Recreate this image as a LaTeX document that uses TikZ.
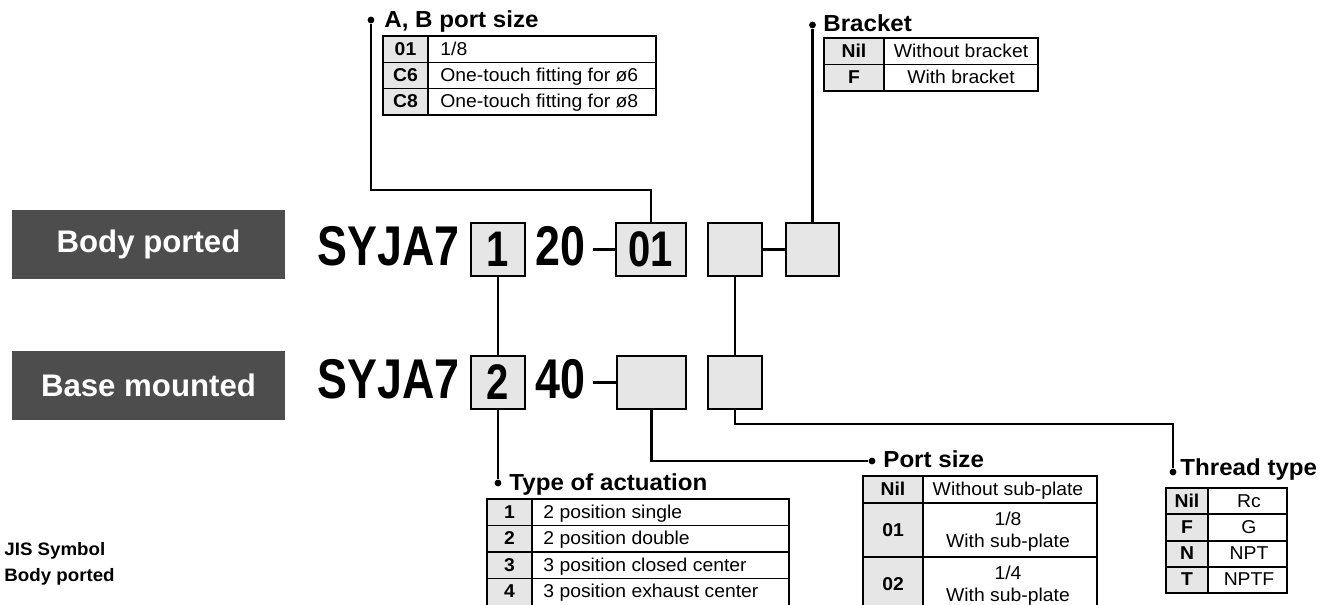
\documentclass[tikz,border=0pt]{standalone}
\usepackage{fontspec}
\setmainfont{Liberation Sans}
\newfontfamily\codefont[FakeStretch=0.8]{Liberation Sans}
\newfontfamily\tabfont[FakeStretch=1.04]{Liberation Sans}
\definecolor{boxgray}{HTML}{E6E6E6}
\definecolor{labelgray}{HTML}{4D4D4D}
\tikzset{
  codetext/.style={anchor=base west, inner sep=0pt, font=\codefont\bfseries\fontsize{28}{28}\selectfont},
  digitbox/.style={draw, line width=1.2pt, fill=boxgray, minimum height=26.5pt, inner sep=0pt,
    font=\codefont\bfseries\fontsize{25}{25}\selectfont},
  typelabel/.style={fill=labelgray, text=white, minimum width=136.5pt, minimum height=34.5pt,
    inner sep=0pt, font=\bfseries\fontsize{15.6}{16}\selectfont},
  headtext/.style={anchor=base west, inner sep=0pt, font=\tabfont\bfseries\fontsize{11.6}{13}\selectfont},
  twocell/.style={inner sep=0pt, align=center, font=\tabfont\fontsize{9.3}{10}\selectfont},
  cell/.style={twocell, text height=6.7pt, text depth=0.6pt},
  keycell/.style={cell, font=\tabfont\bfseries\fontsize{9.3}{10}\selectfont},
  conn/.style={line width=1.1pt},
  tabline/.style={line width=0.6pt},
  tabtop/.style={line width=1.2pt},
  joint/.style={fill, circle, inner sep=0pt, minimum size=3.4pt}
}
\begin{document}
\begin{tikzpicture}[x=0.5pt, y=-0.5pt]
\useasboundingbox (0,0) rectangle (1329,605);

\node[typelabel] (body) at (148.5,244.5) {Body ported};
\node[typelabel] (base) at (148.5,385) {Base mounted};

\node[codetext] (model1) at (317,265) {SYJA7};
\node[codetext] (ser1) at (535,265) {20};
\node[codetext] (model2) at (317,398) {SYJA7};
\node[codetext] (ser2) at (535,398) {40};

\node[digitbox, minimum width=27pt] (act1) at (498,249.5) {1};
\node[digitbox, minimum width=35pt] (abport) at (651,249.5) {01};
\node[digitbox, minimum width=27pt] (thr1) at (735,249.5) {};
\node[digitbox, minimum width=26.5pt] (brk) at (812.5,249.5) {};
\node[digitbox, minimum width=27pt] (act2) at (498,382.5) {2};
\node[digitbox, minimum width=34.5pt] (port) at (651.5,382.5) {};
\node[digitbox, minimum width=27pt] (thr2) at (735,382.5) {};

\coordinate (dash1) at (593,249.5);
\coordinate (dash2) at (593,382.5);
\draw[line width=1.5pt] (dash1) -- (abport.west);
\draw[line width=1.5pt] (dash2) -- (port.west);
\draw[line width=1.5pt] (thr1.east) -- (brk.west);

\draw[conn] (act1) -- (act2);
\draw[conn] (thr1) -- (thr2);

\node[joint] (abdot) at (371,20) {};
\node[joint] (brdot) at (812.5,25) {};
\node[joint] (tydot) at (498,483) {};
\node[joint] (psdot) at (872,461) {};
\node[joint] (thdot) at (1173,472) {};

\draw[conn] (abport.north) -- (abport.north |- 0,190) -- (abdot |- 0,190) -- (abdot);
\draw[conn] (brk.north) -- (brdot);
\draw[conn] (act2.south) -- (tydot);
\draw[conn] (port.south) |- (psdot);
\draw[conn] (thr2.south) -- (thr2.south |- 0,424) -| (thdot);

\node[headtext] (abtitle) at (384,27) {A, B port size};
\node[headtext] (brtitle) at (823,32) {Bracket};
\node[headtext] (tytitle) at (509,490) {Type of actuation};
\node[headtext] (pstitle) at (883,467) {Port size};
\node[headtext] (thtitle) at (1180,475) {Thread type};

% A, B port size
\fill[boxgray] (383,36) rectangle (428,115);
\draw[tabline] (383,36) rectangle (656,115);
\foreach \y in {62.3,88.7} \draw[tabline] (383,\y) -- (656,\y);
\draw[tabline] (428,36) -- (428,115);
\draw[tabtop] (383,36) -- (656,36);
\foreach \k/\t [count=\i] in {01/{1/8}, C6/{One-touch fitting for ø6}, C8/{One-touch fitting for ø8}} {
  \node[keycell] (ab-k\i) at (405.5,{36+26.33*(\i-0.5)}) {\k};
  \node[cell, anchor=west] (ab-t\i) at (440,{36+26.33*(\i-0.5)}) {\t};
}

% Bracket
\fill[boxgray] (824,38) rectangle (884,91);
\draw[tabline] (824,38) rectangle (1038,91);
\draw[tabline] (824,64.5) -- (1038,64.5);
\draw[tabline] (884,38) -- (884,91);
\draw[tabtop] (824,38) -- (1038,38);
\foreach \k/\t [count=\i] in {Nil/Without bracket, F/With bracket} {
  \node[keycell] (br-k\i) at (854,{38+26.5*(\i-0.5)}) {\k};
  \node[cell] (br-t\i) at (961,{38+26.5*(\i-0.5)}) {\t};
}

% Type of actuation
\fill[boxgray] (487,499) rectangle (532,612);
\draw[tabline] (487,499) rectangle (789,612);
\foreach \y in {525.5,552,578.5} \draw[tabline] (487,\y) -- (789,\y);
\draw[tabline] (532,499) -- (532,612);
\draw[tabtop] (487,499) -- (789,499);
\foreach \k/\t [count=\i] in {1/2 position single, 2/2 position double,
    3/3 position closed center, 4/3 position exhaust center} {
  \node[keycell] (ty-k\i) at (509.5,{499+26.5*(\i-0.5)}) {\k};
  \node[cell, anchor=west] (ty-t\i) at (543,{499+26.5*(\i-0.5)}) {\t};
}

% Port size
\fill[boxgray] (863,476) rectangle (923,615);
\draw[tabline] (863,476) rectangle (1097,615);
\foreach \y in {503,557} \draw[tabline] (863,\y) -- (1097,\y);
\draw[tabline] (923,476) -- (923,615);
\draw[tabtop] (863,476) -- (1097,476);
\node[keycell] (ps-k1) at (893,489.5) {Nil};
\node[cell] (ps-t1) at (1008,489.5) {Without sub-plate};
\node[keycell] (ps-k2) at (893,530) {01};
\node[twocell] (ps-t2) at (1008,532) {1/8\\[1pt]With sub-plate};
\node[keycell] (ps-k3) at (893,584) {02};
\node[twocell] (ps-t3) at (1008,586) {1/4\\[1pt]With sub-plate};

% Thread type
\fill[boxgray] (1166,488) rectangle (1208,593);
\draw[tabline] (1166,488) rectangle (1287,593);
\foreach \y in {514,541,567} \draw[tabline] (1166,\y) -- (1287,\y);
\draw[tabline] (1208,488) -- (1208,593);
\draw[tabtop] (1166,488) -- (1287,488);
\foreach \k/\t [count=\i] in {Nil/Rc, F/G, N/NPT, T/NPTF} {
  \node[keycell] (th-k\i) at (1187,{488+26.25*(\i-0.5)}) {\k};
  \node[cell] (th-t\i) at (1249,{488+26.25*(\i-0.5)}) {\t};
}

\node[anchor=base west, inner sep=0pt, font=\tabfont\bfseries\fontsize{9}{10}\selectfont] (jis) at (4,555) {JIS Symbol};
\node[anchor=base west, inner sep=0pt, font=\tabfont\bfseries\fontsize{9}{10}\selectfont] (jisbody) at (4,581) {Body ported};
\end{tikzpicture}
\end{document}
